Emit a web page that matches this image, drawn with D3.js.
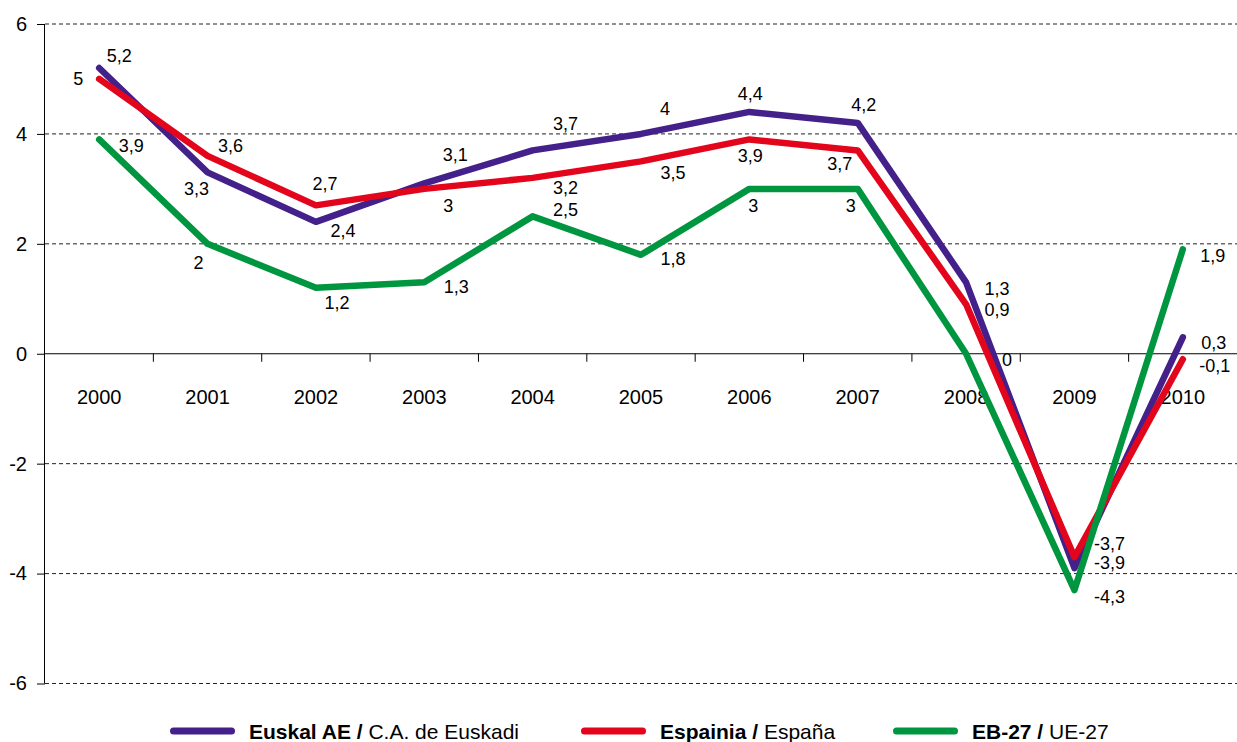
<!DOCTYPE html>
<html>
<head>
<meta charset="utf-8">
<script src="https://cdn.jsdelivr.net/npm/d3@7"></script>
<style>
  html, body { margin: 0; padding: 0; background: #fff; }
  svg { display: block; font-family: "Liberation Sans", Arial, Helvetica, sans-serif; }
</style>
</head>
<body>
<svg id="chart" width="1237" height="742"></svg>
<script>
// ---- data ----
const years = ["2000","2001","2002","2003","2004","2005","2006","2007","2008","2009","2010"];
const euskadi = [5.2, 3.3, 2.4, 3.1, 3.7, 4.0, 4.4, 4.2, 1.3, -3.9, 0.3];
const espana  = [5.0, 3.6, 2.7, 3.0, 3.2, 3.5, 3.9, 3.7, 0.9, -3.7, -0.1];
const ue27    = [3.9, 2.0, 1.2, 1.3, 2.5, 1.8, 3.0, 3.0, 0.0, -4.3, 1.9];
const yTicks  = [-6, -4, -2, 0, 2, 4, 6];
const seriesBold   = ["Euskal AE /", "Espainia /", "EB-27 /"];
const seriesNormal = ["C.A. de Euskadi", "España", "UE-27"];

// ---- styling (label offsets from the point, in px) ----
const colors = ["#43208a", "#e3051b", "#009640"];
const labelOffsets = [
  [[20,-12],[-11,16],[27,9],[31,-29],[33,-27],[24,-25],[1,-18],[6,-18],[31,6],[35,-6],[31,5]],
  [[-21,0],[23,-10],[9,-22],[24,17],[33,10],[32,11],[1,16],[-18,13],[31,5],[35,-14],[32,6]],
  [[32,6],[-9,19],[21,15],[32,4],[33,-7],[32,4],[4,17],[-7,17],[41,6],[35,6],[30,6]]
];

(function () {
const svg = d3.select("#chart");
const mLeft = 45, mRight = 1237, mTop = 24, mBottom = 683.5;

const x = d3.scaleBand().domain(years).range([mLeft, mRight]).padding(0);
const y = d3.scaleLinear().domain([-6, 6]).range([mBottom, mTop]);
const fmt = v => String(v).replace(".", ",");

// gridlines (dashed, except zero)
svg.append("g").selectAll("line")
  .data(yTicks.filter(d => d !== 0))
  .join("line")
  .attr("x1", mLeft).attr("x2", mRight)
  .attr("y1", d => y(d)).attr("y2", d => y(d))
  .attr("stroke", "#222").attr("stroke-width", 1)
  .attr("stroke-dasharray", "4,3");

// y axis
const yAxis = d3.axisLeft(y).tickValues(yTicks).tickSize(8).tickPadding(10).tickFormat(d => d);
const gy = svg.append("g").attr("transform", `translate(${mLeft},0)`).call(yAxis);
gy.select(".domain").attr("stroke", "#000").attr("d", `M-0.5,${mTop}V${mBottom}`);
gy.selectAll(".tick line").attr("stroke", "#000");
gy.selectAll(".tick text").attr("font-size", 20).attr("fill", "#000")
  .attr("font-family", "'Liberation Sans', Arial, sans-serif");

// zero line with category boundary ticks
svg.append("line")
  .attr("x1", mLeft).attr("x2", mRight)
  .attr("y1", y(0)).attr("y2", y(0))
  .attr("stroke", "#000").attr("stroke-width", 1);
svg.append("g").selectAll("line")
  .data(years.slice(1))
  .join("line")
  .attr("x1", d => x(d)).attr("x2", d => x(d))
  .attr("y1", y(0)).attr("y2", y(0) + 8)
  .attr("stroke", "#000").attr("stroke-width", 1);

// year labels
svg.append("g").selectAll("text")
  .data(years)
  .join("text")
  .attr("x", d => x(d) + x.bandwidth() / 2)
  .attr("y", y(0) + 50)
  .attr("text-anchor", "middle")
  .attr("font-size", 20)
  .attr("fill", "#000")
  .text(d => d);

// lines
const seriesList = [euskadi, espana, ue27];
const line = d3.line()
  .x((d, i) => x(years[i]) + x.bandwidth() / 2)
  .y(d => y(d));

seriesList.forEach((s, k) => {
  svg.append("path")
    .datum(s)
    .attr("d", line)
    .attr("fill", "none")
    .attr("stroke", colors[k])
    .attr("stroke-width", 6.5)
    .attr("stroke-linejoin", "round")
    .attr("stroke-linecap", "round");
});

// value labels
seriesList.forEach((s, k) => {
  svg.append("g").selectAll("text")
    .data(s)
    .join("text")
    .attr("x", (d, i) => x(years[i]) + x.bandwidth() / 2 + labelOffsets[k][i][0])
    .attr("y", (d, i) => y(d) + labelOffsets[k][i][1])
    .attr("dy", "0.36em")
    .attr("text-anchor", "middle")
    .attr("font-size", 18)
    .attr("fill", "#000")
    .text(d => fmt(d));
});

// legend
const legendX = [170, 581, 893];
const lg = svg.append("g");
seriesBold.forEach((b, k) => {
  const g = lg.append("g").attr("transform", `translate(${legendX[k]},731)`);
  g.append("line").attr("x1", 3.5).attr("x2", 61.5).attr("y1", 0).attr("y2", 0)
    .attr("stroke", colors[k]).attr("stroke-width", 7).attr("stroke-linecap", "round");
  const t = g.append("text").attr("x", 79).attr("y", 8).attr("font-size", 21).attr("fill", "#000");
  t.append("tspan").attr("font-weight", "bold").text(b);
  t.append("tspan").text(" " + seriesNormal[k]);
});
})();
</script>
</body>
</html>
